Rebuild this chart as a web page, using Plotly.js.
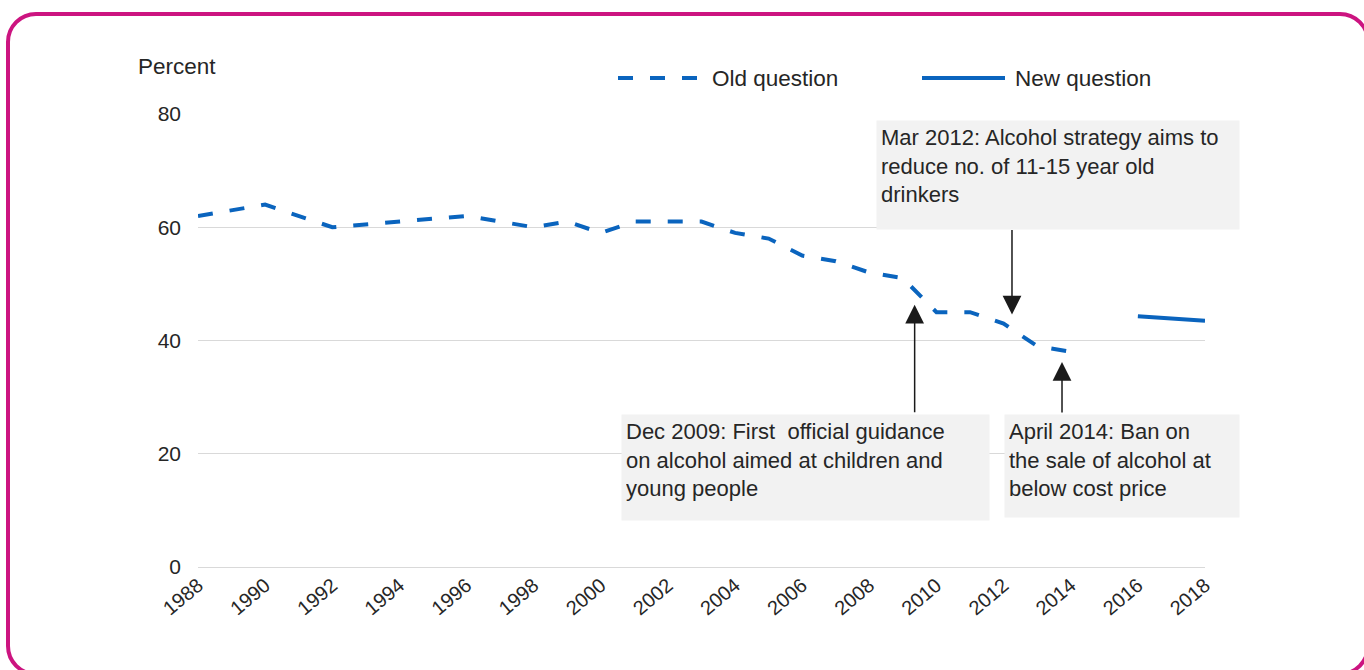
<!DOCTYPE html>
<html>
<head>
<meta charset="utf-8">
<script src="https://cdn.plot.ly/plotly-3.0.1.min.js"></script>
<style>
  html, body { margin: 0; padding: 0; background: #ffffff; overflow: hidden; }
  #frame {
    position: absolute; left: 6px; top: 12px; width: 1364px; height: 664px;
    border: 4px solid #cc1480; border-radius: 30px; box-sizing: border-box;
  }
  #chart { position: absolute; left: 0; top: 0; width: 1364px; height: 670px; }
</style>
</head>
<body>
<div id="frame"></div>
<div id="chart"></div>
<script>
// Proportion of pupils who have ever had an alcoholic drink, by survey year
const oldYears = [1988, 1990, 1992, 1994, 1996, 1998, 1999, 2000, 2001, 2002, 2003,
                  2004, 2005, 2006, 2007, 2008, 2009, 2010, 2011, 2012, 2013, 2014];
const oldValues = [62, 64, 60, 61, 62, 60, 61, 59, 61, 61, 61,
                   59, 58, 55, 54, 52, 51, 45, 45, 43, 39, 38];
const newYears = [2016, 2018];
const newValues = [44.3, 43.5];

const tickYears = [1988, 1990, 1992, 1994, 1996, 1998, 2000, 2002, 2004,
                   2006, 2008, 2010, 2012, 2014, 2016, 2018];

const seriesNames = ['Old question', 'New question'];

// Policy events: label, arrow tip (year, percent)
const eventLabels = [
  'Dec 2009: First  official guidance<br>on alcohol aimed at children and<br>young people',
  'Mar 2012: Alcohol strategy aims to<br>reduce no. of 11-15 year old<br>drinkers',
  'April 2014: Ban on<br>the sale of alcohol at<br>below cost price'
];
const eventYears = [2009.35, 2012.25, 2013.74];
const eventTips = [46.3, 44.6, 36.2];

const FONT = '"Liberation Sans", Arial, sans-serif';
const TEXT = '#262626';
const BLUE = '#0a64be';
const LABEL_SIZE = 22.5;
const BOX_SIZE = 22;

// Plot area geometry in page pixels, used for placing the free-floating text
const W = 1364, H = 670, L = 198, R = 1205, T = 114, B = 567;
const px = x => (x - L) / (R - L);
const py = y => (B - y) / (B - T);

const traces = [
  {
    x: oldYears, y: oldValues, name: seriesNames[0], type: 'scatter', mode: 'lines',
    line: { color: BLUE, width: 4, dash: '15px,17px' }, showlegend: false
  },
  {
    x: newYears, y: newValues, name: seriesNames[1], type: 'scatter', mode: 'lines',
    line: { color: BLUE, width: 4 }, showlegend: false
  }
];

const boxes = [
  { x0: 621, y0: 414, x1: 988, y1: 519 },
  { x0: 876, y0: 120, x1: 1238, y1: 228 },
  { x0: 1004, y0: 414, x1: 1238, y1: 516 }
];
const arrowTails = [109, -86, 52];

const annotations = [];
const pad = 4;
eventLabels.forEach((txt, i) => {
  const b = boxes[i];
  annotations.push({
    xref: 'paper', yref: 'paper', x: px(b.x0), y: py(b.y0),
    xanchor: 'left', yanchor: 'top', showarrow: false,
    width: b.x1 - b.x0 - 2 * pad, height: b.y1 - b.y0 - 2 * pad,
    borderpad: pad, bgcolor: '#f2f2f2', align: 'left', valign: 'top',
    text: txt, font: { family: FONT, size: BOX_SIZE, color: TEXT }
  });
});
eventLabels.forEach((txt, i) => {
  annotations.push({
    xref: 'x', yref: 'y', x: eventYears[i], y: eventTips[i],
    ax: 0, ay: arrowTails[i], text: '', showarrow: true,
    arrowhead: 2, arrowsize: 2.5, arrowwidth: 1.5, arrowcolor: '#1a1a1a'
  });
});

// Axis caption and legend labels
annotations.push({
  xref: 'paper', yref: 'paper', x: px(136), y: py(67), xanchor: 'left', yanchor: 'middle',
  showarrow: false, text: 'Percent', font: { family: FONT, size: LABEL_SIZE, color: TEXT }
});
annotations.push({
  xref: 'paper', yref: 'paper', x: px(710), y: py(78), xanchor: 'left', yanchor: 'middle',
  showarrow: false, text: seriesNames[0], font: { family: FONT, size: LABEL_SIZE, color: TEXT }
});
annotations.push({
  xref: 'paper', yref: 'paper', x: px(1013), y: py(78), xanchor: 'left', yanchor: 'middle',
  showarrow: false, text: seriesNames[1], font: { family: FONT, size: LABEL_SIZE, color: TEXT }
});

const shapes = [
  { type: 'line', xref: 'paper', yref: 'paper', x0: px(618), x1: px(700), y0: py(78), y1: py(78),
    line: { color: BLUE, width: 4, dash: '15px,17px' } },
  { type: 'line', xref: 'paper', yref: 'paper', x0: px(922), x1: px(1005), y0: py(78), y1: py(78),
    line: { color: BLUE, width: 4 } }
];

const layout = {
  width: W, height: H,
  margin: { l: L, r: W - R, t: T, b: H - B, pad: 0 },
  paper_bgcolor: 'rgba(0,0,0,0)', plot_bgcolor: 'rgba(0,0,0,0)',
  font: { family: FONT, size: 20, color: TEXT },
  showlegend: false,
  xaxis: {
    range: [1988, 2018], tickmode: 'array', tickvals: tickYears,
    ticktext: tickYears.map(String), tickangle: -40,
    showgrid: false, zeroline: false, showline: false, ticks: '',
    ticklabelstandoff: 2,
    tickfont: { family: FONT, size: 20, color: TEXT }
  },
  yaxis: {
    range: [0, 80], dtick: 20, tick0: 0, showgrid: true, gridcolor: '#d9d9d9', gridwidth: 1,
    zeroline: true, zerolinecolor: '#d9d9d9', zerolinewidth: 1, showline: false, ticks: '',
    ticklabelstandoff: 16,
    tickfont: { family: FONT, size: 21, color: TEXT }
  },
  shapes: shapes,
  annotations: annotations
};

Plotly.newPlot('chart', traces, layout, { displayModeBar: false, staticPlot: true });
</script>
</body>
</html>
